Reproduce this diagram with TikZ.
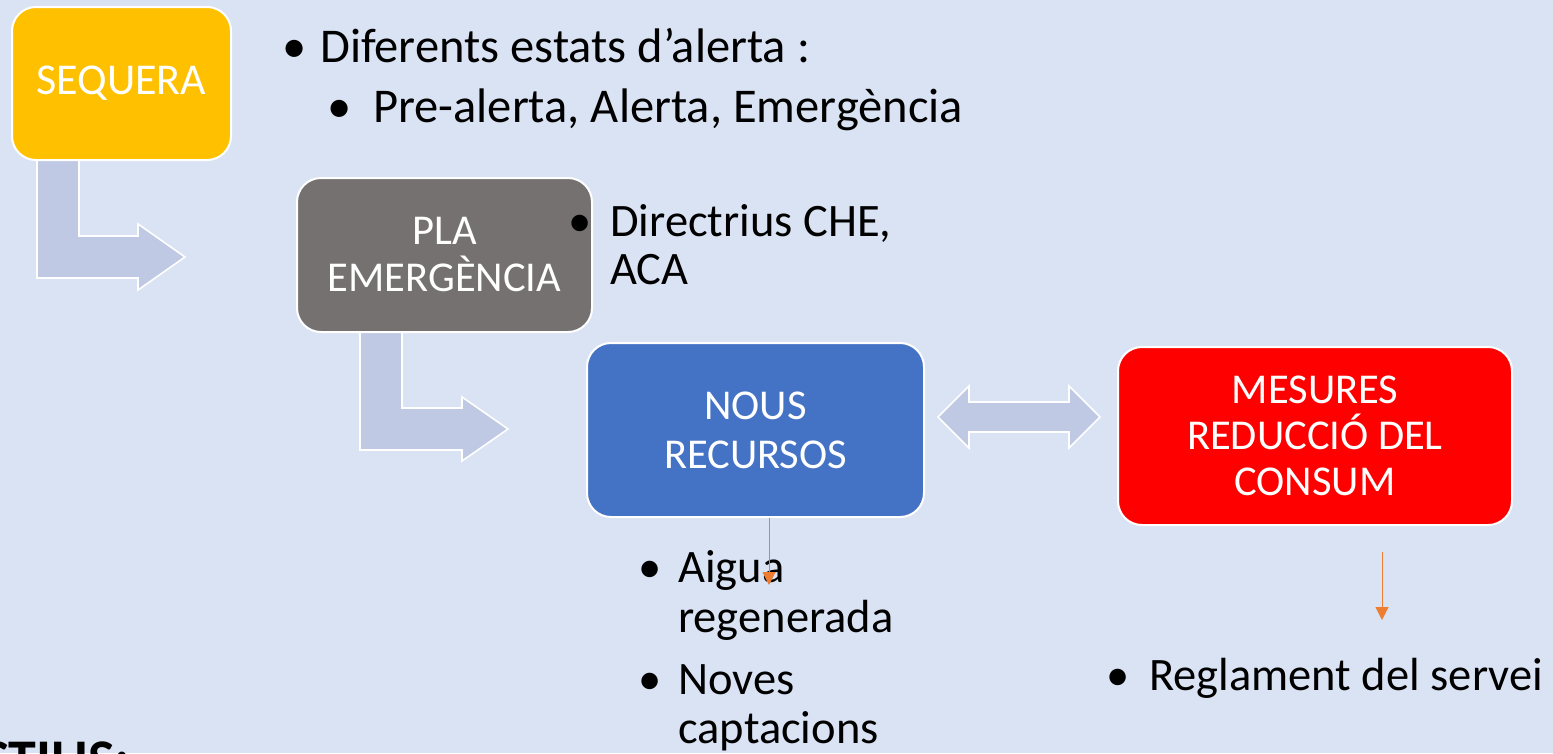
\documentclass[tikz,border=0pt]{standalone}
\usepackage{fontspec}
\setmainfont{Carlito}
\usetikzlibrary{arrows.meta}
\definecolor{bg}{HTML}{DAE3F3}
\definecolor{seqcol}{HTML}{FFC000}
\definecolor{placol}{HTML}{767171}
\definecolor{nouscol}{HTML}{4472C4}
\definecolor{redcol}{HTML}{FF0000}
\definecolor{arrowfill}{HTML}{BFC9E3}
\definecolor{orange1}{HTML}{ED7D31}
\begin{document}
\begin{tikzpicture}[x=1pt,y=-1pt,
  box/.style={draw=white, line width=2pt, rounded corners=24pt, text=white, align=center, inner sep=0pt, font=\fontsize{42.5}{47}\selectfont},
  blockarrow/.style={fill=arrowfill, draw=white, line width=1.6pt, line join=miter},
  toptext/.style={font=\fontsize{48.5}{56}\selectfont, anchor=base west, inner sep=0pt},
  body/.style={font=\fontsize{46.5}{50}\selectfont, anchor=base west, inner sep=0pt},
  orangearrow/.style={draw=orange1, line width=1pt, -{Triangle[length=13pt,width=13pt]}}]
\useasboundingbox (0,0) rectangle (1553,753);
\fill[bg] (0,0) rectangle (1553,753);
\begin{scope}
\clip (0,0) rectangle (1553,753);

% block arrows
\draw[blockarrow] (37,150) -- (37,278) -- (138,278) -- (138,290) -- (185,257) -- (138,224) -- (138,236) -- (79,236) -- (79,150);
\draw[blockarrow] (360,325) -- (360,450) -- (462,450) -- (462,461) -- (508,429) -- (462,397) -- (462,408) -- (402,408) -- (402,325);
\draw[blockarrow] (938,417) -- (969,386) -- (969,402) -- (1069,402) -- (1069,386) -- (1100,417) -- (1069,448) -- (1069,432) -- (969,432) -- (969,448) -- cycle;

% boxes
\node[box, fill=seqcol, minimum width=219pt, minimum height=153pt, font=\fontsize{44}{47}\selectfont] (seq) at (121.5,83.5) {SEQUERA};
\node[box, fill=placol, minimum width=295pt, minimum height=154pt] (pla) at (444.5,255) {PLA\\EMERGÈNCIA};
\node[box, fill=nouscol, minimum width=337pt, minimum height=174pt, font=\fontsize{42.5}{49}\selectfont] (nous) at (755.5,430) {NOUS\\RECURSOS};
\node[box, fill=redcol, minimum width=394pt, minimum height=178pt, font=\fontsize{42.5}{46}\selectfont] (mes) at (1315,436) {MESURES\\REDUCCIÓ DEL\\CONSUM};

% top bullets
\node[toptext] (b1) at (282,62) {•};
\node[toptext] (t1) at (320,62) {Diferents estats d’alerta :};
\node[toptext] (b2) at (327,122) {•};
\node[toptext] (t2) at (373,122) {Pre-alerta, Alerta, Emergència};

% directrius
\node[body] (b3) at (568,236) {•};
\node[body] (t3) at (610,236) {Directrius CHE,};
\node[body] (t4) at (610,284) {ACA};

% nous recursos list
\node[body] (b4) at (638,582) {•};
\node[body] (t5) at (678,582) {Aigua};
\node[body] (t6) at (678,632) {regenerada};
\node[body] (b5) at (638,694) {•};
\node[body] (t7) at (678,694) {Noves};
\node[body] (t8) at (678,743) {captacions};

% mesures list
\node[body] (b6) at (1106,690) {•};
\node[body] (t9) at (1149,690) {Reglament del servei};

% orange arrows
\coordinate (a1) at (769,585);
\draw[orangearrow] (nous.south -| a1) -- (a1);
\coordinate (a2s) at (1382,552);
\coordinate (a2e) at (1382,620);
\draw[orangearrow] (a2s) -- (a2e);

% cut-off title
\node[font=\fontsize{56}{60}\selectfont\bfseries, anchor=base west, inner sep=0pt] (est) at (-44,778) {ESTIUS:};
\end{scope}
\end{tikzpicture}
\end{document}
